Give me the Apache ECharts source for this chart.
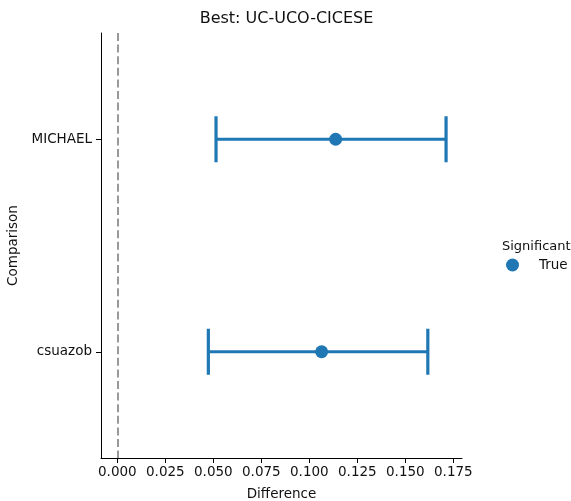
<!DOCTYPE html>
<html>
<head>
<meta charset="utf-8">
<script src="https://cdn.jsdelivr.net/npm/echarts@6/dist/echarts.min.js"></script>
<style>
  html, body { margin: 0; padding: 0; background: #fff; }
  #chart { width: 571px; height: 501px; }
</style>
</head>
<body>
<div id="chart"></div>
<script>
// Comparisons against the best team, with mean difference and CI bounds
const comparisons = ['MICHAEL', 'csuazob'];
const meanDiff = [0.1137, 0.1064];
const ciLow = [0.0514, 0.0474];
const ciHigh = [0.1712, 0.1617];
const xTicks = [0, 0.025, 0.05, 0.075, 0.1, 0.125, 0.15, 0.175];

const blue = '#1f77b4';
const font = 'DejaVu Sans';
const ink = '#111';

const chart = echarts.init(document.getElementById('chart'));

const errData = comparisons.map((c, i) => [i, ciLow[i], ciHigh[i]]);
const pointData = comparisons.map((c, i) => [meanDiff[i], c]);

chart.setOption({
  animation: false,
  backgroundColor: '#fff',
  textStyle: { fontFamily: font },
  title: [
    {
      text: 'Best: UC-UCO-CICESE',
      left: 281.5, top: 6, textAlign: 'center',
      textStyle: { fontFamily: font, fontSize: 16, fontWeight: 'normal', color: ink }
    },
    {
      text: 'Significant',
      left: 497, top: 235,
      textStyle: { fontFamily: font, fontSize: 13, fontWeight: 'normal', color: ink }
    }
  ],
  legend: {
    left: 501, top: 253,
    itemWidth: 13, itemHeight: 13,
    data: [{ name: 'True', icon: 'circle' }],
    textStyle: { fontFamily: font, fontSize: 13.5, color: ink, padding: [0, 0, 0, 15] }
  },
  grid: { left: 101, right: 109, top: 33, bottom: 43, containLabel: false, outerBoundsMode: 'none' },
  xAxis: {
    type: 'value',
    min: -0.0085, max: 0.1795,
    name: 'Difference', nameLocation: 'middle', nameGap: 29,
    nameTextStyle: { fontFamily: font, fontSize: 13.5, color: ink },
    splitLine: { show: false },
    axisLine: { show: true, onZero: false, lineStyle: { color: '#000', width: 1 } },
    axisTick: { show: true, length: 5, customValues: xTicks, lineStyle: { color: '#000' } },
    axisLabel: {
      customValues: xTicks, margin: 7,
      fontFamily: font, fontSize: 13.5, color: ink,
      formatter: v => v.toFixed(3)
    }
  },
  yAxis: {
    type: 'category',
    data: comparisons,
    inverse: true,
    boundaryGap: true,
    name: 'Comparison', nameLocation: 'middle', nameGap: 73,
    nameTextStyle: { fontFamily: font, fontSize: 13.5, color: ink },
    axisLine: { show: true, onZero: false, lineStyle: { color: '#000', width: 1 } },
    axisTick: { show: true, alignWithLabel: true, length: 5, lineStyle: { color: '#000' } },
    axisLabel: { margin: 9, fontFamily: font, fontSize: 13.5, color: ink },
    splitLine: { show: false }
  },
  series: [
    {
      type: 'custom',
      name: 'ci',
      data: errData,
      silent: true,
      z: 2,
      renderItem: function (params, api) {
        const cat = api.value(0);
        const lo = api.coord([api.value(1), cat]);
        const hi = api.coord([api.value(2), cat]);
        const cap = 23;
        const style = { stroke: blue, lineWidth: 3.2 };
        return {
          type: 'group',
          children: [
            { type: 'line', shape: { x1: lo[0], y1: lo[1], x2: hi[0], y2: hi[1] }, style: style },
            { type: 'line', shape: { x1: lo[0], y1: lo[1] - cap, x2: lo[0], y2: lo[1] + cap }, style: style },
            { type: 'line', shape: { x1: hi[0], y1: hi[1] - cap, x2: hi[0], y2: hi[1] + cap }, style: style }
          ]
        };
      },
      encode: { x: [1, 2], y: 0 }
    },
    {
      type: 'scatter',
      name: 'True',
      data: pointData,
      symbol: 'circle',
      symbolSize: 13,
      itemStyle: { color: blue, opacity: 1 },
      z: 3,
      markLine: {
        silent: true,
        symbol: ['none', 'none'],
        label: { show: false },
        lineStyle: { color: '#808080', type: [8, 3.6], width: 1.6 },
        data: [{ xAxis: 0 }]
      }
    }
  ]
});
</script>
</body>
</html>
